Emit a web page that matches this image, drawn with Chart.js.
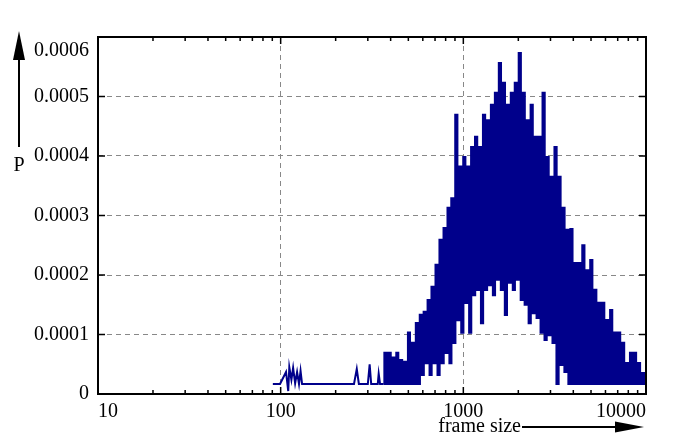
<!DOCTYPE html>
<html>
<head>
<meta charset="utf-8">
<title>frame size</title>
<script src="https://cdn.jsdelivr.net/npm/chart.js@4.4.1/dist/chart.umd.min.js"></script>
<style>
  html, body { margin: 0; padding: 0; background: #fff; }
  #wrap { width: 694px; height: 445px; }
</style>
</head>
<body>
<div id="wrap"><canvas id="myChart" width="694" height="445"></canvas></div>
<script>
// small frames, sparse part on the left
const smallSizes = [90.6, 99.2, 107, 110, 111.5, 114.5, 117, 120, 123, 126, 128.5, 131,
    252, 261, 268, 300, 307, 313, 340, 344, 350, 366];
const smallProbs = [0.0000168, 0.0000168, 0.000037, 0.000005, 0.000045, 0.000024, 0.000044, 0.000018,
    0.000037, 0.0000168, 0.000039, 0.0000168, 0.0000168, 0.000042, 0.0000168, 0.0000168, 0.00005,
    0.0000168, 0.0000168, 0.000034, 0.0000168, 0.0000168];

// main body of the distribution (values jump between high and low)
const frameSizes = [366, 370, 380, 390, 400, 410, 420, 430, 440, 450, 462, 474, 486, 498, 510, 523, 536,
    550, 564, 578, 592, 607, 622, 638, 654, 670, 687, 705, 723, 741, 760, 780, 800, 820, 840, 860, 882,
    904, 927, 950, 975, 1000, 1025, 1050, 1077, 1104, 1132, 1160, 1190, 1220, 1250, 1282, 1315, 1348,
    1382, 1417, 1453, 1490, 1528, 1566, 1606, 1647, 1689, 1732, 1776, 1821, 1867, 1914, 1962, 2012,
    2063, 2115, 2168, 2223, 2280, 2338, 2397, 2458, 2520, 2584, 2650, 2717, 2786, 2857, 2930, 3004,
    3080, 3158, 3238, 3320, 3404, 3490, 3579, 3670, 3763, 3858, 3956, 4056, 4159, 4265, 4373, 4484,
    4598, 4714, 4834, 4956, 5082, 5211, 5343, 5479, 5618, 5760, 5906, 6056, 6210, 6367, 6529, 6694,
    6864, 7038, 7217, 7400, 7588, 7780, 7978, 8180, 8388, 8600, 8819, 9042, 9272, 9507, 9748, 9995, 10250];
const frameProbs = [0.0000168, 0.000069, 0.0000168, 0.000069, 0.0000168, 0.000061, 0.0000168, 0.000069,
    0.0000168, 0.000057, 0.0000168, 0.000054, 0.0000168, 0.000103, 0.0000168, 0.000086, 0.0000168,
    0.000119, 0.0000168, 0.000133, 0.000032, 0.000138, 0.000052, 0.000158, 0.000032, 0.00018, 0.000052,
    0.000217, 0.000032, 0.000259, 0.000052, 0.000279, 0.000069, 0.000313, 0.000052, 0.000329, 0.000086,
    0.000469, 0.000124, 0.000382, 0.000103, 0.000398, 0.000153, 0.000382, 0.000103, 0.000415, 0.000166,
    0.000432, 0.000175, 0.000415, 0.000119, 0.000469, 0.000175, 0.00046, 0.000183, 0.000486, 0.000166,
    0.000506, 0.000192, 0.000556, 0.000175, 0.000523, 0.000133, 0.000486, 0.000187, 0.000506, 0.000175,
    0.000523, 0.000192, 0.000573, 0.000158, 0.000506, 0.00015, 0.00046, 0.000119, 0.000486, 0.000136,
    0.000432, 0.000128, 0.000432, 0.000103, 0.000506, 0.000091, 0.000398, 0.000099, 0.000365, 0.000086,
    0.000415, 0.0000168, 0.000365, 0.000049, 0.000313, 0.000037, 0.000276, 0.0000168, 0.000277, 0.0000168,
    0.00022, 0.0000168, 0.00022, 0.0000168, 0.00025, 0.0000168, 0.000208, 0.0000168, 0.000225, 0.0000168,
    0.000175, 0.0000168, 0.000153, 0.0000168, 0.000153, 0.0000168, 0.000124, 0.0000168, 0.000141, 0.0000168,
    0.000103, 0.0000168, 0.000103, 0.0000168, 0.000086, 0.0000168, 0.000052, 0.0000168, 0.000069, 0.0000168,
    0.000069, 0.0000168, 0.000052, 0.0000168, 0.000035, 0.0000168, 0.000035, 0.0000168];

// axis ticks
const xTickValues = [10, 100, 1000, 10000];
const xMinorTicks = [20, 30, 40, 50, 60, 70, 80, 90, 200, 300, 400, 500, 600, 700, 800, 900,
    2000, 3000, 4000, 5000, 6000, 7000, 8000, 9000];
const yTickValues = [0, 0.0001, 0.0002, 0.0003, 0.0004, 0.0005, 0.0006];
const yTickLabels = ['0', '0.0001', '0.0002', '0.0003', '0.0004', '0.0005', '0.0006'];

const lineColor = '#00008b';
const serif = "'Liberation Serif', 'Times New Roman', serif";

Chart.defaults.font.family = serif;
Chart.defaults.font.size = 20;
Chart.defaults.color = '#000';

// frame, inward ticks, axis arrows
const framePlugin = {
    id: 'frame',
    afterDatasetsDraw(chart) {
        const ctx = chart.ctx;
        const a = chart.chartArea;
        const x = chart.scales.x;
        const y = chart.scales.y;
        ctx.save();
        ctx.strokeStyle = '#000';
        ctx.lineWidth = 1.5;
        ctx.beginPath();
        yTickValues.forEach(function(v) {
            const py = y.getPixelForValue(v);
            ctx.moveTo(a.left, py); ctx.lineTo(a.left + 7, py);
            ctx.moveTo(a.right, py); ctx.lineTo(a.right - 7, py);
        });
        xTickValues.forEach(function(v) {
            const px = x.getPixelForValue(v);
            ctx.moveTo(px, a.bottom); ctx.lineTo(px, a.bottom - 7);
            ctx.moveTo(px, a.top); ctx.lineTo(px, a.top + 7);
        });
        xMinorTicks.forEach(function(v) {
            const px = x.getPixelForValue(v);
            ctx.moveTo(px, a.bottom); ctx.lineTo(px, a.bottom - 4);
            ctx.moveTo(px, a.top); ctx.lineTo(px, a.top + 4);
        });
        ctx.stroke();
        ctx.lineWidth = 2;
        ctx.strokeRect(a.left, a.top, a.right - a.left, a.bottom - a.top);
        ctx.restore();
    },
    afterDraw(chart) {
        const ctx = chart.ctx;
        const a = chart.chartArea;
        ctx.save();
        ctx.fillStyle = '#000';
        ctx.strokeStyle = '#000';
        ctx.lineWidth = 2;
        ctx.font = '20px ' + serif;

        // y axis: "P" with arrow pointing up
        const ax = a.left - 79;
        ctx.beginPath();
        ctx.moveTo(ax, a.top + 110);
        ctx.lineTo(ax, a.top + 20);
        ctx.stroke();
        ctx.beginPath();
        ctx.moveTo(ax, a.top - 6);
        ctx.lineTo(ax - 6, a.top + 23);
        ctx.lineTo(ax + 6, a.top + 23);
        ctx.closePath();
        ctx.fill();
        ctx.textAlign = 'center';
        ctx.textBaseline = 'middle';
        ctx.fillText('P', ax, a.top + 129);

        // x axis: "frame size" with arrow pointing right
        const ay = a.bottom + 33;
        ctx.textAlign = 'right';
        ctx.textBaseline = 'alphabetic';
        ctx.fillText('frame size', a.right - 125, ay + 5);
        ctx.beginPath();
        ctx.moveTo(a.right - 124, ay);
        ctx.lineTo(a.right - 28, ay);
        ctx.stroke();
        ctx.beginPath();
        ctx.moveTo(a.right - 2, ay);
        ctx.lineTo(a.right - 31, ay - 5.5);
        ctx.lineTo(a.right - 31, ay + 5.5);
        ctx.closePath();
        ctx.fill();
        ctx.restore();
    }
};

const ctx = document.getElementById('myChart').getContext('2d');
new Chart(ctx, {
    type: 'line',
    data: {
        datasets: [{
            label: 'small',
            data: smallSizes.map(function(s, i) { return { x: s, y: smallProbs[i] }; }),
            borderColor: lineColor,
            borderWidth: 2,
            pointRadius: 0,
            fill: false,
            tension: 0
        }, {
            label: 'main',
            data: frameSizes.map(function(s, i) { return { x: s, y: frameProbs[i] }; }),
            borderColor: lineColor,
            borderWidth: 2.2,
            pointRadius: 0,
            fill: false,
            stepped: true
        }]
    },
    options: {
        responsive: false,
        animation: false,
        devicePixelRatio: 1,
        layout: { padding: { top: 37, right: 48, left: 0, bottom: 0 } },
        plugins: {
            legend: { display: false },
            tooltip: { enabled: false }
        },
        scales: {
            x: {
                type: 'logarithmic',
                min: 10,
                max: 10000,
                afterBuildTicks: function(axis) {
                    axis.ticks = xTickValues.map(function(v) { return { value: v }; });
                },
                afterFit: function(scale) { scale.height = 51; },
                ticks: {
                    autoSkip: false,
                    maxRotation: 0,
                    align: 'inner',
                    padding: 6,
                    callback: function(v) { return String(v); }
                },
                grid: { color: '#888', lineWidth: 1, drawTicks: false },
                border: { display: false, dash: [5, 4] }
            },
            y: {
                min: 0,
                max: 0.0006,
                afterBuildTicks: function(axis) {
                    axis.ticks = yTickValues.map(function(v) { return { value: v }; });
                },
                afterFit: function(scale) { scale.width = 98; },
                ticks: {
                    padding: 9,
                    font: { lineHeight: 1.4 },
                    callback: function(v, i) {
                        // top label sits a bit below its tick
                        return i === yTickLabels.length - 1 ? ['', yTickLabels[i]] : yTickLabels[i];
                    }
                },
                grid: { color: '#888', lineWidth: 1, drawTicks: false },
                border: { display: false, dash: [5, 4] }
            }
        }
    },
    plugins: [framePlugin]
});
</script>
</body>
</html>
